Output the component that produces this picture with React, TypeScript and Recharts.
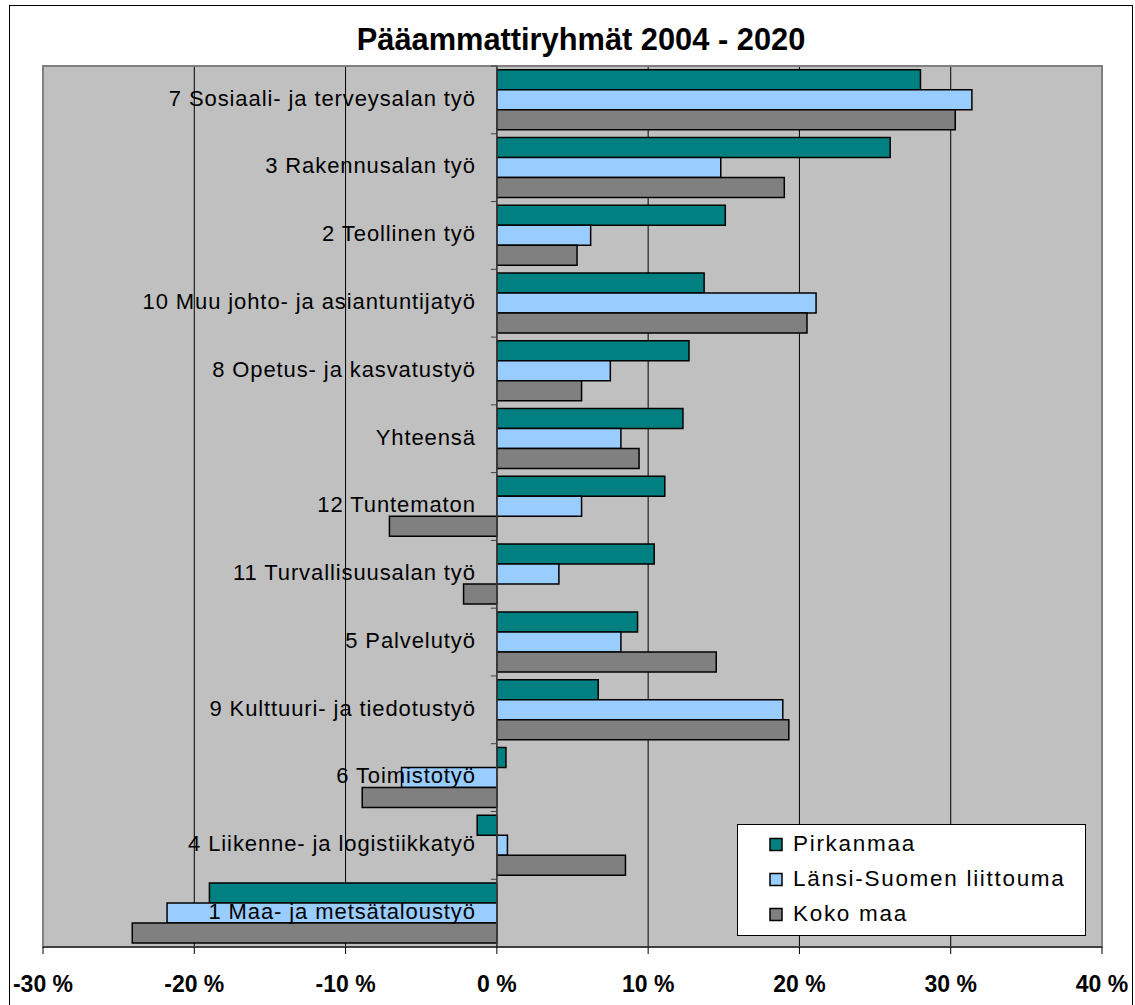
import {
  BarChart,
  Bar,
  XAxis,
  YAxis,
  CartesianGrid,
  ReferenceLine,
  ReferenceArea,
  LabelList,
  Legend,
} from 'recharts'

const FONT = "'Liberation Sans', Arial, sans-serif"

const categories = [
  '7 Sosiaali- ja terveysalan työ',
  '3 Rakennusalan työ',
  '2 Teollinen työ',
  '10 Muu johto- ja asiantuntijatyö',
  '8 Opetus- ja kasvatustyö',
  'Yhteensä',
  '12 Tuntematon',
  '11 Turvallisuusalan työ',
  '5 Palvelutyö',
  '9 Kulttuuri- ja tiedotustyö',
  '6 Toimistotyö',
  '4 Liikenne- ja logistiikkatyö',
  '1 Maa- ja metsätaloustyö',
]

const pirkanmaa = [28.0, 26.0, 15.1, 13.7, 12.7, 12.3, 11.1, 10.4, 9.3, 6.7, 0.6, -1.3, -19.0]
const lansiSuomi = [31.4, 14.8, 6.2, 21.1, 7.5, 8.2, 5.6, 4.1, 8.2, 18.9, -6.3, 0.7, -21.8]
const kokoMaa = [30.3, 19.0, 5.3, 20.5, 5.6, 9.4, -7.1, -2.2, 14.5, 19.3, -8.9, 8.5, -24.1]

const xTicks = [-30, -20, -10, 0, 10, 20, 30, 40]

const series = [
  { key: 'pirkanmaa', name: 'Pirkanmaa', color: '#008080' },
  { key: 'lansi', name: 'Länsi-Suomen liittouma', color: '#99CCFF' },
  { key: 'koko', name: 'Koko maa', color: '#808080' },
]

const data = categories.map((name, i) => ({
  name,
  pirkanmaa: pirkanmaa[i],
  lansi: lansiSuomi[i],
  koko: kokoMaa[i],
}))

const GAP = 0.055

// category names sit just left of the zero line, like the Excel original
function CategoryLabel(props: any) {
  const vb = props.viewBox ?? props
  const { x, y, width, height } = vb
  const i = typeof props.index === 'number' ? props.index : categories.indexOf(props.value)
  const v = kokoMaa[i]
  const left = Math.min(x, x + width)
  const right = Math.max(x, x + width)
  const zeroX = v >= 0 ? left : right
  const h = Math.abs(height)
  const top = Math.min(y, y + height)
  const center = top - h / 2
  const band = (3 * h) / (1 - 2 * GAP)
  const tickTop = center - band / 2
  return (
    <g>
      <line x1={zeroX - 6} x2={zeroX} y1={tickTop} y2={tickTop} stroke="#404040" />
      <text
        x={zeroX - 21}
        y={center + 6}
        textAnchor="end"
        fontSize={22}
        fontFamily={FONT}
        fill="#000"
        style={{ letterSpacing: '0.9px' }}
      >
        {categories[i]}
      </text>
    </g>
  )
}

function LegendBox() {
  return (
    <svg width={349} height={112} style={{ display: 'block' }}>
      <rect x={0.5} y={0.5} width={348} height={111} fill="#fff" stroke="#000" />
      {series.map((s, i) => (
        <g key={s.key}>
          <rect x={33} y={14.5 + i * 35} width={12} height={12} fill={s.color} stroke="#000" strokeWidth={1.5} />
          <text
            x={56}
            y={27 + i * 35}
            fontSize={22.5}
            fontFamily={FONT}
            fill="#000"
            style={{ letterSpacing: '1.7px' }}
          >
            {s.name}
          </text>
        </g>
      ))}
    </svg>
  )
}

export default function App() {
  return (
    <div style={{ position: 'absolute', left: 0, top: 0, width: 1135, height: 1005, background: '#fff' }}>
      <div
        style={{
          position: 'absolute',
          left: 9,
          top: 5,
          width: 1122,
          height: 1000,
          borderTop: '1px solid #000',
          borderLeft: '1px solid #000',
          borderRight: '1px solid #000',
        }}
      />
      <div
        style={{
          position: 'absolute',
          left: 281,
          top: 25,
          width: 600,
          textAlign: 'center',
          fontFamily: FONT,
          fontWeight: 'bold',
          fontSize: 30.8,
          lineHeight: '30px',
        }}
      >
        Pääammattiryhmät 2004 - 2020
      </div>
      <div style={{ position: 'absolute', left: 0, top: 0 }}>
        <BarChart
          width={1135}
          height={1005}
          data={data}
          layout="vertical"
          margin={{ top: 66, right: 33, left: 43, bottom: 0 }}
          barCategoryGap="5.5%"
          barGap={0}
        >
          <CartesianGrid horizontal={false} stroke="#000" fill="#C0C0C0" fillOpacity={1} />
          <XAxis
            type="number"
            domain={[-30, 40]}
            ticks={xTicks}
            allowDataOverflow
            height={58}
            tickSize={7}
            tickMargin={22}
            axisLine={{ stroke: '#000', strokeWidth: 1 }}
            tickLine={{ stroke: '#000' }}
            tickFormatter={(v: number) => `${v} %`}
            tick={{ fill: '#000', fontSize: 23, fontWeight: 'bold', fontFamily: FONT }}
            interval={0}
          />
          <YAxis type="category" dataKey="name" hide />
          <ReferenceArea x1={-30} x2={40} fill="none" stroke="#808080" strokeWidth={2} />
          {series.map((s) => (
            <Bar
              key={s.key}
              dataKey={s.key}
              name={s.name}
              fill={s.color}
              stroke="#000"
              strokeWidth={1.5}
              isAnimationActive={false}
            >
              {s.key === 'koko' && <LabelList dataKey="name" content={CategoryLabel} />}
            </Bar>
          ))}
          <ReferenceLine x={0} stroke="#404040" strokeWidth={1.5} />
          <Legend
            layout="vertical"
            align="center"
            verticalAlign="middle"
            content={() => <LegendBox />}
            wrapperStyle={{ left: 737, top: 824, width: 349, height: 112 }}
          />
        </BarChart>
      </div>
    </div>
  )
}
